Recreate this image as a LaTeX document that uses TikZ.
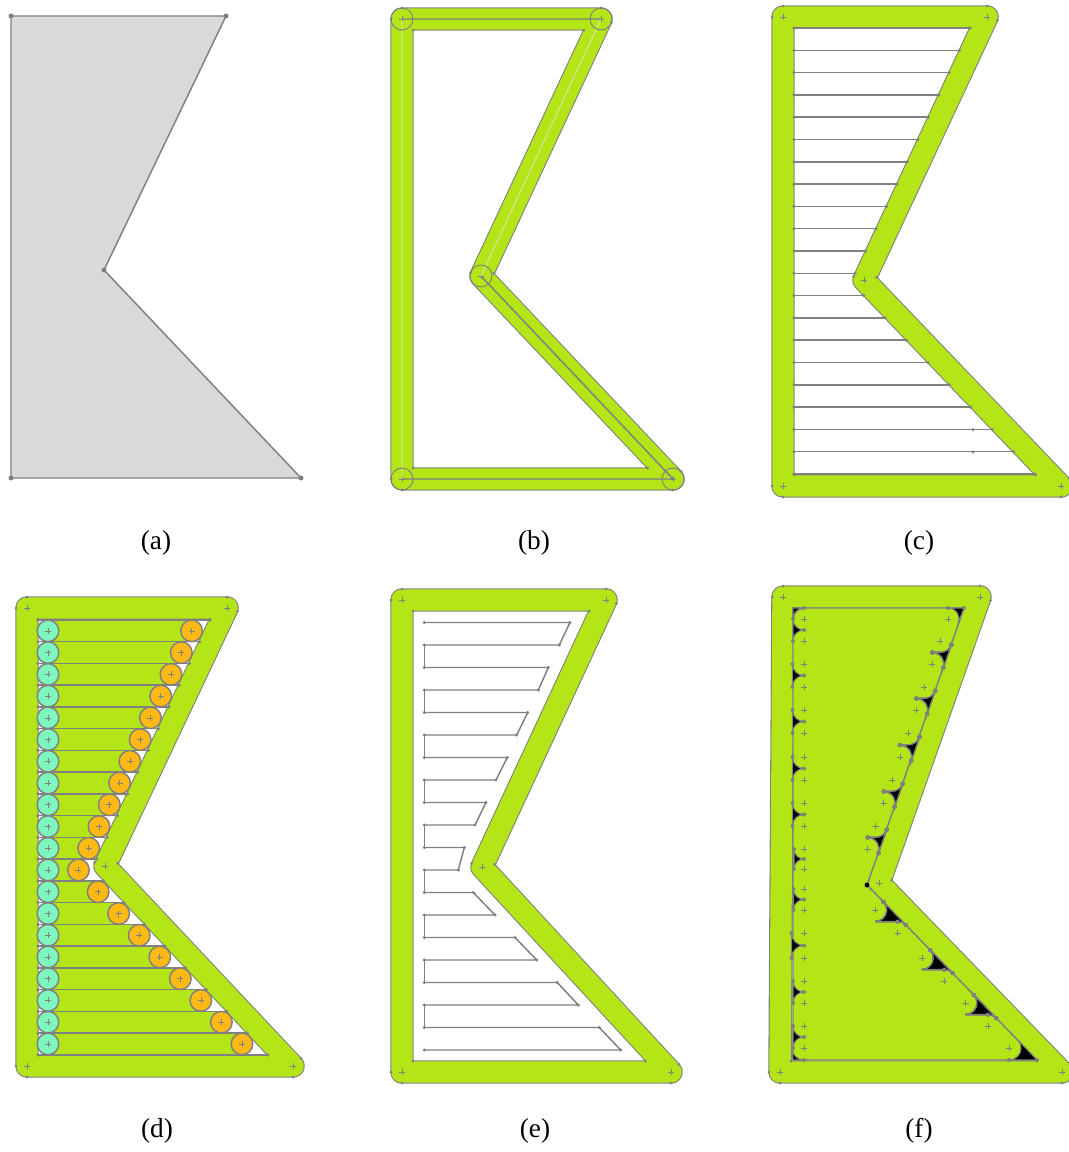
\documentclass[tikz,border=0pt]{standalone}
\usepackage{fontspec}
\setmainfont{Liberation Serif}
\definecolor{bandgreen}{HTML}{B4E516}
\definecolor{edgegray}{HTML}{808080}
\definecolor{palegray}{HTML}{D9E8A8}
\definecolor{shapegray}{HTML}{D9D9D9}
\definecolor{mintfill}{HTML}{7DF7BE}
\definecolor{orangefill}{HTML}{FFB914}
\tikzset{
        edge/.style={draw=edgegray, line width=1.1pt},
        thinedge/.style={draw=edgegray, line width=0.45pt},
        sublabel/.style={font=\fontsize{20.5}{24}\selectfont},
}
\newcommand\dotat[2]{\fill[edgegray] (#1,#2) circle (1.7);}
\newcommand\crossat[2]{\draw[thinedge] (#1-3,#2) -- (#1+3,#2) (#1,#2-3) -- (#1,#2+3);}
\newcommand\drawband[8]{
        \draw[edgegray, line width=17.6pt, line join=round] (#1,#2) -- (#3,#2) -- (#4,#5) -- (#6,#7) -- (#8,#7) -- cycle;
        \draw[bandgreen, line width=16pt, line join=round] (#1,#2) -- (#3,#2) -- (#4,#5) -- (#6,#7) -- (#8,#7) -- cycle;
        \crossat{#1}{#2} \crossat{#3}{#2} \crossat{#4}{#5} \crossat{#6}{#7} \crossat{#8}{#7}
        \foreach \p in {(#1-11,#2), (#1,#2-11), (#3,#2-11), (#8,#7+11), (#8-11,#7), (#6,#7+11),
                (#1+11,#2+11), (#3-17,#2+11), (#6-25.5,#7-11), (#8+11,#7-11)}
                \fill[edgegray] \p circle (1.5);
        \fill[edgegray] (#3,#2) ++(19:11) circle (1.5);
        \fill[edgegray] (#4,#5) ++(199:11) circle (1.5);
        \fill[edgegray] (#4,#5) ++(-12.5:12.9) circle (1.5);
        \fill[edgegray] (#6,#7) ++(-44:11) circle (1.5);
}
\newcommand\holeat[6]{
        \pgfmathsetmacro\holer{(#4-#2)/2}
        \filldraw[fill=black, draw=edgegray, line width=0.8pt] (#1,#2) ++(#5:\holer) arc[start angle=#5, end angle=90, radius=\holer]
                -- (#3,#4-\holer) arc[start angle=270, end angle=#6, radius=\holer] -- cycle;
        \fill[edgegray] (#1,#2) ++(#5:\holer) circle (2);
        \fill[edgegray] (#3,#4) ++(#6:\holer) circle (2);
        \fill[edgegray] (#3,#4-\holer) circle (2);
        \crossat{#1}{#2} \crossat{#3}{#4}
}
\begin{document}
\begin{tikzpicture}[x=0.75pt, y=-0.75pt]
        \useasboundingbox (0,0) rectangle (1068,1152);

        \filldraw[fill=shapegray, edge] (11,16) -- (226,16) -- (104,270) -- (301,478) -- (11,478) -- cycle;
        \foreach \p in {(11,16), (226,16), (104,270), (301,478), (11,478)}
                \fill[edgegray] \p circle (2.5);

        \drawband{402}{19}{601}{481}{276}{673}{479}{402}
        \draw[palegray, line width=0.7pt] (402,19) -- (402,479) (601,19) -- (481,276);
        \draw[edge] (402,19) -- (601,19) (481,276) -- (673,479) -- (402,479);
        \foreach \p in {(402,19), (601,19), (481,276), (673,479), (402,479)}
                \draw[draw=edgegray, line width=0.7pt] \p circle (11);

        \drawband{783}{17}{987}{864}{280}{1061}{486}{783}
        \foreach \k in {0,...,20} {
                \pgfmathsetmacro\yline{28+22.3*\k}
                \pgfmathsetmacro\xline{max(970-(\yline-28)*0.468, 1035-(474-\yline)*0.96)}
                \draw[edge] (794,\yline) -- (\xline,\yline);
                \dotat{794}{\yline} \dotat{\xline}{\yline}
        }
        \dotat{973}{429.7} \dotat{973}{452}

        \drawband{27}{608}{227}{105}{866}{293}{1066}{27}
        \foreach \k in {0,...,19} {
                \pgfmathsetmacro\ytop{620+21.74*\k}
                \pgfmathsetmacro\ymid{\ytop+10.87}
                \pgfmathsetmacro\xc{max(196.7-(\ymid-620)*0.473, 252.4-(1055-\ymid)*0.945)}
                \fill[bandgreen] (48,\ytop) rectangle (\xc,\ytop+21.74);
        }
        \foreach \k in {0,...,20} {
                \pgfmathsetmacro\yline{620+21.74*\k}
                \pgfmathsetmacro\xline{max(210-(\yline-620)*0.473, 268-(1055-\yline)*0.945)}
                \draw[edge] (38,\yline) -- (\xline,\yline);
                \dotat{38}{\yline} \dotat{\xline}{\yline}
        }
        \foreach \k in {0,...,19} {
                \pgfmathsetmacro\ymid{620+21.74*\k+10.87}
                \pgfmathsetmacro\xc{max(196.7-(\ymid-620)*0.473, 252.4-(1055-\ymid)*0.945)}
                \filldraw[fill=mintfill, edge] (48,\ymid) circle (10.8);
                \filldraw[fill=orangefill, edge] (\xc,\ymid) circle (10.8);
                \crossat{48}{\ymid} \crossat{\xc}{\ymid}
        }

        \drawband{402}{600}{606}{482}{867}{671}{1072}{402}
        \foreach \k/\xa/\xb in {0/570/559.3, 2/548.3/538.3, 4/527.7/516.7, 6/507.3/496, 8/486/475,
                10/464.3/458.3, 12/473.3/495, 14/515/536.7, 16/557.3/578.3, 18/599.3/620.7} {
                \pgfmathsetmacro\ya{622.5+22.5*\k}
                \pgfmathsetmacro\yb{\ya+22.5}
                \draw[edge] (424.3,\ya) -- (\xa,\ya) -- (\xb,\yb) -- (424.3,\yb);
                \dotat{424.3}{\ya} \dotat{\xa}{\ya} \dotat{\xb}{\yb} \dotat{424.3}{\yb}
        }
        \foreach \k in {1,3,...,17} {
                \pgfmathsetmacro\ya{622.5+22.5*\k}
                \draw[edge] (424.3,\ya) -- (424.3,\ya+22.5);
        }

        \drawband{783}{597}{980}{879}{883}{1062}{1072}{780}
        \fill[bandgreen] (793,608) -- (964,608) -- (867,885) -- (1037,1060) -- (793,1060) -- cycle;
        \draw[edge] (793,608) -- (964,608) -- (867,885) -- (1037,1060) -- (793,1060) -- cycle;
        \foreach \ya/\yb in {619/641, 664/687, 710/733, 757/780, 803/826, 849/869, 889/910, 933/958, 981/1003, 1026/1048}
                \holeat{804}{\ya}{804}{\yb}{180}{180}
        \foreach \ya/\yb in {641/664, 687/710, 733/757, 780/803, 826/849} {
                \pgfmathsetmacro\xa{952-(\ya-608)*0.35}
                \pgfmathsetmacro\xb{952-(\yb-608)*0.35}
                \holeat{\xa}{\ya}{\xb}{\yb}{19}{379}
        }
        \foreach \ya/\yb in {910/933, 958/981, 1003/1026} {
                \pgfmathsetmacro\xa{851+(\ya-885)*0.971}
                \pgfmathsetmacro\xb{851+(\yb-885)*0.971}
                \holeat{\xa}{\ya}{\xb}{\yb}{-44}{316}
        }
        \filldraw[fill=black, draw=edgegray, line width=0.8pt] (804,608) arc[start angle=270, end angle=180, radius=11] -- (793,608) -- cycle;
        \filldraw[fill=black, draw=edgegray, line width=0.8pt] (948,608) arc[start angle=270, end angle=379, radius=11] -- (964,608) -- cycle;
        \filldraw[fill=black, draw=edgegray, line width=0.8pt] (804,1060) arc[start angle=90, end angle=180, radius=12] -- (793,1060) -- cycle;
        \filldraw[fill=black, draw=edgegray, line width=0.8pt] (1009,1048) ++(-44:12) arc[start angle=-44, end angle=90, radius=12] -- (1037,1060) -- cycle;
        \crossat{804}{619} \crossat{948}{619} \crossat{804}{1048} \crossat{1009}{1048}
        \foreach \p in {(804,608), (948,608), (964,608), (804,1060), (1009,1060), (1037,1060)}
                \fill[edgegray] \p circle (2);
        \fill[black] (867,885) circle (2.5);
        \dotat{871}{889}

        \node[sublabel] (labela) at (156,543) {(a)};
        \node[sublabel] (labelb) at (534,543) {(b)};
        \node[sublabel] (labelc) at (919,543) {(c)};
        \node[sublabel] (labeld) at (157,1131) {(d)};
        \node[sublabel] (labele) at (535,1131) {(e)};
        \node[sublabel] (labelf) at (919,1131) {(f)};
\end{tikzpicture}
\end{document}
